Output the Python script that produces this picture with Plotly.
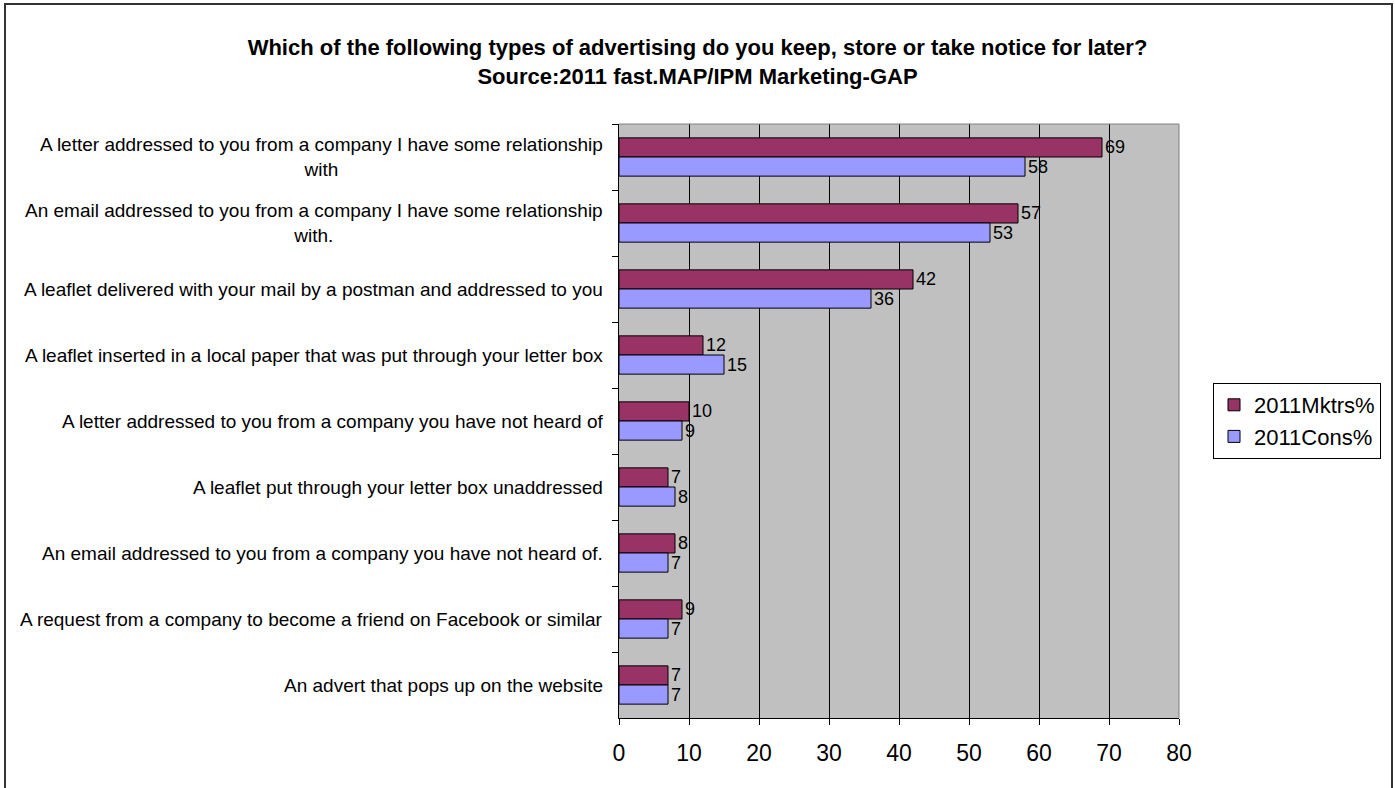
import plotly.graph_objects as go

# Survey categories, listed top to bottom as shown on the chart
categories = [
    "A letter addressed to you from a company I have some relationship<br>with",
    "An email addressed to you from a company I have some relationship<br>with.",
    "A leaflet delivered with your mail by a postman and addressed to you",
    "A leaflet inserted in a local paper that was put through your letter box",
    "A letter addressed to you from a company you have not heard of",
    "A leaflet put through your letter box unaddressed",
    "An email addressed to you from a company you have not heard of.",
    "A request from a company to become a friend on Facebook or similar",
    "An advert that pops up on the website",
]
cat_ids = [f"c{i}" for i in range(len(categories))]

mktrs = [69, 57, 42, 12, 10, 7, 8, 9, 7]
cons = [58, 53, 36, 15, 9, 8, 7, 7, 7]

x_ticks = [0, 10, 20, 30, 40, 50, 60, 70, 80]

FONT = "Liberation Sans, Arial, sans-serif"

fig = go.Figure()
fig.add_trace(go.Bar(
    name="2011Mktrs%", y=cat_ids, x=mktrs, orientation="h",
    marker=dict(color="#993366", line=dict(color="black", width=1)),
    text=mktrs, texttemplate="%{x}", textposition="outside",
    constraintext="none", cliponaxis=False,
    textfont=dict(size=18, color="black", family=FONT),
))
fig.add_trace(go.Bar(
    name="2011Cons%", y=cat_ids, x=cons, orientation="h",
    marker=dict(color="#9999FF", line=dict(color="black", width=1)),
    text=cons, texttemplate="%{x}", textposition="outside",
    constraintext="none", cliponaxis=False,
    textfont=dict(size=18, color="black", family=FONT),
))

# Category labels as centred multi-line annotations
for cid, label in zip(cat_ids, categories):
    fig.add_annotation(
        x=0, xref="paper", y=cid, yref="y", xanchor="right", xshift=-14,
        text=label, showarrow=False, align="center",
        font=dict(size=19, color="black", family=FONT),
    )

# Outer frame
fig.add_shape(type="rect", xref="paper", yref="paper",
              x0=-614 / 560, x1=1.0 + 213 / 560,
              y0=-0.2, y1=1.0 + 120 / 594,
              line=dict(color="#333333", width=2), layer="below")

fig.update_layout(
    width=1395, height=788,
    margin=dict(l=619, r=216, t=124, b=70, autoexpand=False),
    paper_bgcolor="white",
    plot_bgcolor="#C0C0C0",
    barmode="group", bargap=0.42, bargroupgap=0,
    font=dict(family=FONT, color="black"),
    title=dict(
        text="<b>Which of the following types of advertising do you keep, store or take notice for later?<br>Source:2011 fast.MAP/IPM Marketing-GAP</b>",
        x=0.5, xref="container", xanchor="center",
        y=1 - 55 / 788, yref="container", yanchor="middle",
        font=dict(size=22, color="black", family=FONT),
    ),
    xaxis=dict(
        range=[0, 80], tickvals=x_ticks, ticktext=[str(v) for v in x_ticks],
        showgrid=True, gridcolor="black", gridwidth=1,
        ticks="outside", ticklen=6, tickcolor="black",
        ticklabelstandoff=8,
        showline=True, linecolor="black", linewidth=1,
        mirror=False, zeroline=False,
        tickfont=dict(size=23, family=FONT), fixedrange=True,
    ),
    yaxis=dict(
        type="category", categoryorder="array", categoryarray=cat_ids,
        autorange="reversed", showticklabels=False,
        tickson="boundaries", ticks="outside", ticklen=6, tickcolor="black",
        showline=True, linecolor="black", linewidth=1,
        showgrid=False, zeroline=False, fixedrange=True,
    ),
    legend=dict(
        x=1.0 + 34 / 560, xanchor="left", y=0.5, yanchor="middle",
        bgcolor="white", bordercolor="black", borderwidth=1,
        font=dict(size=22, family=FONT, color="black"),
        traceorder="normal", itemclick=False, itemdoubleclick=False,
        itemwidth=30,
    ),
    showlegend=True,
)

# Gray border along the top and right edges of the plot area
fig.add_shape(type="line", xref="paper", yref="paper", x0=0, x1=1, y0=1, y1=1,
              line=dict(color="#808080", width=1))
fig.add_shape(type="line", xref="paper", yref="paper", x0=1, x1=1, y0=0, y1=1,
              line=dict(color="#808080", width=1))

fig.write_html("out.html")
